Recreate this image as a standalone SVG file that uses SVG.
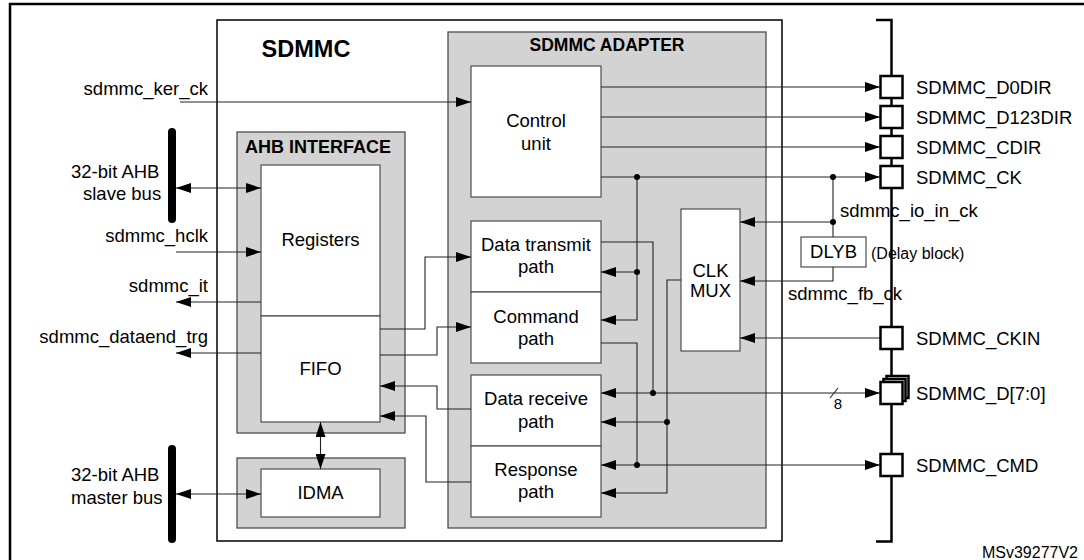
<svg xmlns="http://www.w3.org/2000/svg" width="1084" height="560" viewBox="0 0 1084 560">
<style>
text{font-family:"Liberation Sans",Arial,sans-serif;font-size:18.5px;fill:#000}
.b{font-weight:bold}
.m{text-anchor:middle}
.e{text-anchor:end}
.gray{fill:#d3d3d3;stroke:#4d4d4d;stroke-width:1.3}
.wb{fill:#fff;stroke:#4d4d4d;stroke-width:1.2}
.c{fill:none;stroke:#222;stroke-width:1.1}
.a{marker-end:url(#ah)}
.a2{marker-start:url(#ah);marker-end:url(#ah)}
.pad{fill:#fff;stroke:#000;stroke-width:2.5}
.bus{stroke:#000;stroke-width:8;stroke-linecap:round}
.dot{fill:#000}
</style>
<defs>
<marker id="ah" viewBox="0 0 15 10" markerWidth="15" markerHeight="10" refX="15" refY="5" orient="auto-start-reverse" markerUnits="userSpaceOnUse"><path d="M0,0 L15,5 L0,10 z" fill="#000"/></marker>
</defs>
<path id="frame" d="M10,560 V4 H1084" fill="none" stroke="#000" stroke-width="2.5"/>
<g id="sdmmc"><rect x="217" y="20" width="565" height="521" fill="#fff" stroke="#000" stroke-width="1.5"/><text class="b m" x="306" y="57" style="font-size:23.5px">SDMMC</text></g>
<g id="ahb-interface"><rect class="gray" x="237" y="132" width="168" height="301"/><text class="b" x="245" y="152.7" style="font-size:18px">AHB INTERFACE</text></g>
<g id="idma-block"><rect class="gray" x="237" y="458" width="168" height="70"/></g>
<g id="adapter"><rect class="gray" x="448" y="32" width="318" height="496"/><text class="b m" x="607" y="51" style="font-size:17.5px">SDMMC ADAPTER</text></g>
<g id="control-unit"><rect class="wb" x="471" y="66" width="130" height="131"/><text class="m" x="536" y="127">Control</text><text class="m" x="536" y="150">unit</text></g>
<g id="data-transmit"><rect class="wb" x="471" y="221" width="130" height="71"/><text class="m" x="536" y="251">Data transmit</text><text class="m" x="536" y="273">path</text></g>
<g id="command"><rect class="wb" x="471" y="292" width="130" height="71"/><text class="m" x="536" y="323">Command</text><text class="m" x="536" y="345">path</text></g>
<g id="data-receive"><rect class="wb" x="471" y="375" width="130" height="71"/><text class="m" x="536" y="405">Data receive</text><text class="m" x="536" y="428">path</text></g>
<g id="response"><rect class="wb" x="471" y="446" width="130" height="71"/><text class="m" x="536" y="476">Response</text><text class="m" x="536" y="498">path</text></g>
<g id="clk-mux"><rect class="wb" x="681" y="209" width="59" height="142"/><text class="m" x="710.5" y="277">CLK</text><text class="m" x="710.5" y="297">MUX</text></g>
<g id="registers"><rect class="wb" x="261" y="165" width="119" height="151"/><text class="m" x="320.5" y="246">Registers</text></g>
<g id="fifo"><rect class="wb" x="261" y="316" width="119" height="106"/><text class="m" x="320.5" y="375">FIFO</text></g>
<g id="idma"><rect class="wb" x="261" y="469" width="119" height="48"/><text class="m" x="320.5" y="499">IDMA</text></g>
<g id="dlyb"><rect class="wb" x="801" y="237" width="65" height="30"/><text class="m" x="833.5" y="258">DLYB</text><text x="871" y="259" style="font-size:16px">(Delay block)</text></g>
<g id="ahb-slave-bus"><line class="bus" x1="172" y1="132" x2="172" y2="219"/><text x="71" y="178">32-bit AHB</text><text x="83" y="200">slave bus</text></g>
<g id="ahb-master-bus"><line class="bus" x1="172" y1="449" x2="172" y2="539"/><text x="71" y="481">32-bit AHB</text><text x="71" y="504">master bus</text></g>
<g id="connectors">
<path class="c a" d="M180,102 H471"/>
<path class="c a" d="M176,252 H261"/>
<path class="c a" d="M261,302 H176"/>
<path class="c a" d="M261,353 H176"/>
<path class="c a2" d="M176,188 H261"/>
<path class="c a2" d="M176,494 H261"/>
<path class="c a2" d="M320.5,422 V469"/>
<path class="c a" d="M380,329 H425 V257 H471"/>
<path class="c a" d="M380,355 H437 V327 H471"/>
<path class="c a" d="M471,409 H437 V386 H380"/>
<path class="c a" d="M471,482 H426 V416 H380"/>
<path class="c a" d="M601,87 H880"/>
<path class="c a" d="M601,117 H880"/>
<path class="c a" d="M601,147 H880"/>
<path class="c a" d="M601,177 H880"/>
<path class="c a" d="M637,177 V320 H601"/>
<path class="c a" d="M637,272 H601"/>
<path class="c" d="M601,242 H653 V393"/>
<path class="c a2" d="M601,393 H880"/>
<path class="c" d="M601,343 H637 V465"/>
<path class="c a2" d="M601,465 H880"/>
<path class="c a" d="M681,280 H667 V493 H601"/>
<path class="c a" d="M667,422 H601"/>
<path class="c" d="M833,177 V237"/>
<path class="c a" d="M833,222 H740"/>
<path class="c a" d="M833,267 V281 H740"/>
<path class="c a" d="M880,338 H740"/>
<path class="c" d="M830,398 L838,388"/>
<circle class="dot" cx="637" cy="177" r="3"/>
<circle class="dot" cx="833" cy="177" r="3"/>
<circle class="dot" cx="833" cy="222" r="3"/>
<circle class="dot" cx="637" cy="272" r="3"/>
<circle class="dot" cx="653" cy="393" r="3"/>
<circle class="dot" cx="667" cy="422" r="3"/>
<circle class="dot" cx="637" cy="465" r="3"/>
</g>
<g id="signal-labels">
<text class="e" x="208" y="95">sdmmc_ker_ck</text>
<text class="e" x="208" y="242">sdmmc_hclk</text>
<text class="e" x="208" y="292">sdmmc_it</text>
<text class="e" x="208" y="343">sdmmc_dataend_trg</text>
<text x="840" y="217">sdmmc_io_in_ck</text>
<text x="788" y="300">sdmmc_fb_ck</text>
<text class="m" x="838" y="409" style="font-size:15px">8</text>
</g>
<g id="io-bus"><path d="M876,20 H891.5 V541.5 H876" fill="none" stroke="#000" stroke-width="2.5"/></g>
<g id="pad-d0dir"><rect class="pad" x="880.5" y="76" width="22" height="22"/><text x="916" y="93.5">SDMMC_D0DIR</text></g>
<g id="pad-d123dir"><rect class="pad" x="880.5" y="106" width="22" height="22"/><text x="916" y="123.5">SDMMC_D123DIR</text></g>
<g id="pad-cdir"><rect class="pad" x="880.5" y="136" width="22" height="22"/><text x="916" y="153.5">SDMMC_CDIR</text></g>
<g id="pad-ck"><rect class="pad" x="880.5" y="166" width="22" height="22"/><text x="916" y="183.5">SDMMC_CK</text></g>
<g id="pad-ckin"><rect class="pad" x="880.5" y="327" width="22" height="22"/><text x="916" y="344.5">SDMMC_CKIN</text></g>
<g id="pad-d"><rect class="pad" x="886.5" y="376" width="22" height="22"/><rect class="pad" x="883.5" y="379" width="22" height="22"/><rect class="pad" x="880.5" y="382" width="22" height="22"/><text x="916" y="399.5">SDMMC_D[7:0]</text></g>
<g id="pad-cmd"><rect class="pad" x="880.5" y="454" width="22" height="22"/><text x="916" y="471.5">SDMMC_CMD</text></g>
<text class="e" x="1078" y="558" style="font-size:16px">MSv39277V2</text>
</svg>
